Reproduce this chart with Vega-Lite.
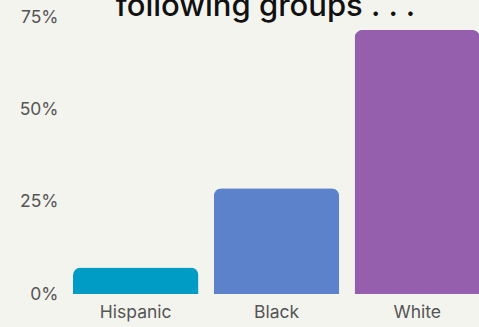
{
  "$schema": "https://vega.github.io/schema/vega-lite/v6.json",
  "width": 407,
  "height": 277,
  "autosize": {"type": "none"},
  "padding": {"left": 73, "top": 17, "right": 0, "bottom": 33},
  "background": "#f4f4ef",
  "title": {
    "text": "following groups . . .",
    "font": "Inter",
    "fontSize": 31,
    "fontWeight": 500,
    "color": "#111111",
    "anchor": "middle",
    "baseline": "alphabetic",
    "offset": -39,
    "dx": -11
  },
  "data": {
    "values": [
      {"group": "Hispanic", "share": 7.2},
      {"group": "Black", "share": 28.6},
      {"group": "White", "share": 71.5}
    ]
  },
  "mark": {"type": "bar", "cornerRadiusEnd": 8},
  "encoding": {
    "x": {
      "field": "group",
      "type": "nominal",
      "sort": ["Hispanic", "Black", "White"],
      "scale": {"paddingInner": 0.109, "paddingOuter": 0},
      "axis": {
        "title": null,
        "labelAngle": 0,
        "domain": false,
        "ticks": false,
        "labelFont": "Inter",
        "labelFontSize": 17.5,
        "labelColor": "#555555",
        "labelPadding": 9
      }
    },
    "y": {
      "field": "share",
      "type": "quantitative",
      "scale": {"domain": [0, 75], "nice": false},
      "axis": {
        "title": null,
        "values": [0, 25, 50, 75],
        "labelExpr": "datum.value + '%'",
        "domain": false,
        "ticks": false,
        "grid": false,
        "labelFont": "Inter",
        "labelFontSize": 17.5,
        "labelColor": "#555555",
        "labelPadding": 15
      }
    },
    "color": {
      "field": "group",
      "type": "nominal",
      "scale": {
        "domain": ["Hispanic", "Black", "White"],
        "range": ["#009cc5", "#5c82cc", "#955fae"]
      },
      "legend": null
    }
  },
  "config": {"view": {"stroke": null}}
}
